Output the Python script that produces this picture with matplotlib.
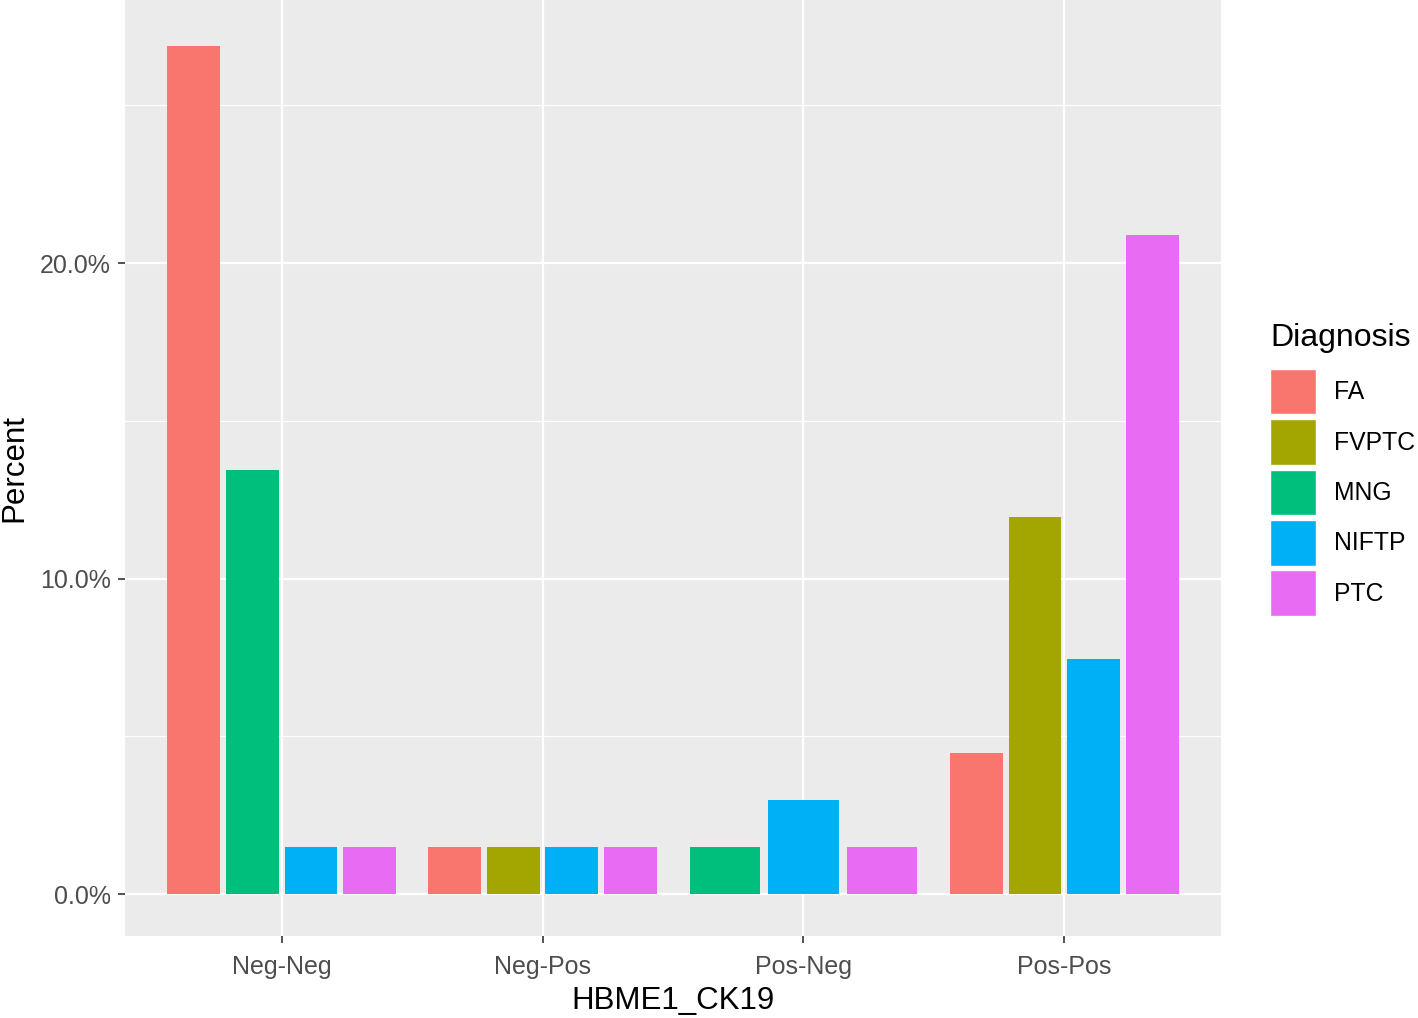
import matplotlib
matplotlib.use("Agg")
import matplotlib.pyplot as plt
from matplotlib.patches import Patch
from matplotlib.ticker import FixedLocator

plt.rcParams['font.family'] = ['Liberation Sans', 'DejaVu Sans']

# data (percent of all cases)
categories = ["Neg-Neg", "Neg-Pos", "Pos-Neg", "Pos-Pos"]
diagnoses = ["FA", "FVPTC", "MNG", "NIFTP", "PTC"]
fa = [26.87, 1.49, None, 4.48]
fvptc = [None, 1.49, None, 11.94]
mng = [13.43, None, 1.49, None]
niftp = [1.49, 1.49, 2.99, 7.46]
ptc = [1.49, 1.49, 1.49, 20.90]
values = [fa, fvptc, mng, niftp, ptc]
colors = ["#F8766D", "#A3A500", "#00BF7D", "#00B0F6", "#E76BF3"]

fig = plt.figure(figsize=(14.18, 10.18), dpi=100)
ax = fig.add_axes([125 / 1418, 82 / 1018, 1096 / 1418, 936 / 1018])
ax.set_facecolor("#EBEBEB")

# dodge2-like placement: group width 0.9, padding 0.1
for ci, cat in enumerate(categories):
    present = [d for d in range(len(diagnoses)) if values[d][ci] is not None]
    n = len(present)
    slot = 0.9 / n
    for k, d in enumerate(present):
        xc = (ci + 1) - 0.45 + slot * (k + 0.5)
        ax.bar(xc, values[d][ci], width=slot * 0.9, color=colors[d], zorder=3)

ax.set_xlim(0.4, 4.6)
ax.set_ylim(-1.33, 28.34)

ax.set_xticks(range(1, 5))
ax.set_xticklabels(categories)
ax.set_yticks([0, 10, 20])
ax.set_yticklabels(["0.0%", "10.0%", "20.0%"])
ax.yaxis.set_minor_locator(FixedLocator([5, 15, 25]))
ax.xaxis.set_minor_locator(FixedLocator([]))

ax.grid(which="major", color="white", linewidth=1.6, zorder=0)
ax.grid(which="minor", axis="y", color="white", linewidth=0.8, zorder=0)
ax.set_axisbelow(True)
for s in ax.spines.values():
    s.set_visible(False)

ax.tick_params(axis="both", which="major", labelsize=18, labelcolor="#4D4D4D",
               color="#333333", length=5, width=1.2)
ax.tick_params(axis="x", which="major", pad=8.5)
ax.tick_params(axis="y", which="major", pad=5)
ax.tick_params(axis="y", which="minor", length=0)

ax.set_xlabel("HBME1_CK19", fontsize=22.5, color="black", labelpad=5)
ax.set_ylabel("Percent", fontsize=22.5, color="black", labelpad=8)

handles = [Patch(facecolor=c, edgecolor="white", linewidth=1) for c in colors]
leg = fig.legend(handles, diagnoses, loc="upper left",
                 bbox_to_anchor=(1270 / 1418, 1 - 369 / 1018),
                 frameon=False, fontsize=17.8,
                 handlelength=1.86, handleheight=2.45,
                 labelspacing=0.2, handletextpad=0.72, borderpad=0,
                 borderaxespad=0)
fig.text(1270 / 1418, 1 - 338 / 1018, "Diagnosis", fontsize=23,
         ha="left", va="center")

fig.savefig("out.png", dpi=100)
